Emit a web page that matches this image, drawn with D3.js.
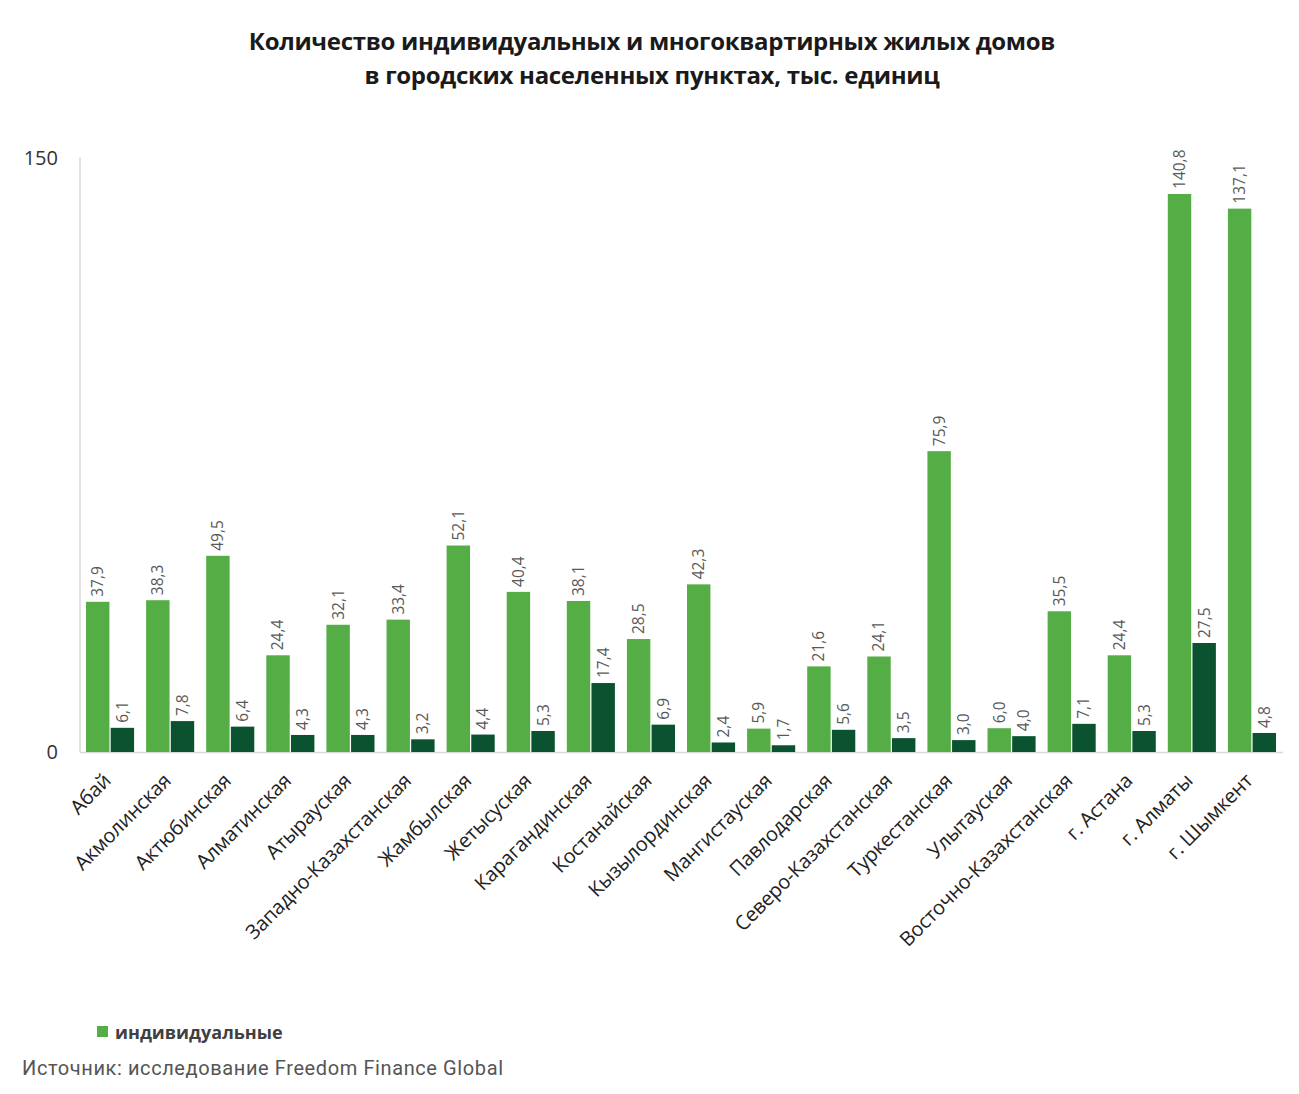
<!DOCTYPE html>
<html>
<head>
<meta charset="utf-8">
<script src="https://cdn.jsdelivr.net/npm/d3@7/dist/d3.min.js"></script>
<style>
  body { margin: 0; background: #fff; }
  svg { display: block; }
</style>
</head>
<body>
<svg id="chart" width="1299" height="1094"></svg>
<script>
var regions = ['Абай','Акмолинская','Актюбинская','Алматинская','Атырауская','Западно-Казахстанская',
  'Жамбылская','Жетысуская','Карагандинская','Костанайская','Кызылординская','Мангистауская',
  'Павлодарская','Северо-Казахстанская','Туркестанская','Улытауская','Восточно-Казахстанская',
  'г. Астана','г. Алматы','г. Шымкент'];
var individual = [37.9,38.3,49.5,24.4,32.1,33.4,52.1,40.4,38.1,28.5,42.3,5.9,21.6,24.1,75.9,6.0,35.5,24.4,140.8,137.1];
var apartment = [6.1,7.8,6.4,4.3,4.3,3.2,4.4,5.3,17.4,6.9,2.4,1.7,5.6,3.5,3.0,4.0,7.1,5.3,27.5,4.8];
var seriesNames = ['индивидуальные','многоквартирные'];
var yTicks = [0, 150];
var titleLines = ['Количество индивидуальных и многоквартирных жилых домов',
  'в городских населенных пунктах, тыс. единиц'];
var sourceText = 'Источник: исследование Freedom Finance Global';

var colors = ['#55ae45', '#0b5330'];
var svg = d3.select('#chart');
var fmt = function(v){ return v.toFixed(1).replace('.', ','); };

// title
svg.selectAll('.title').data(titleLines).enter().append('text')
  .attr('class','title')
  .attr('x', 652).attr('y', function(d,i){ return 50 + i*34; })
  .attr('text-anchor','middle')
  .attr('font-family','Open Sans, sans-serif')
  .attr('font-weight','bold')
  .attr('font-size', 24)
  .attr('letter-spacing', -0.3)
  .attr('fill','#1a1a1a')
  .text(function(d){ return d; });

var x = d3.scaleBand().domain(regions).range([80, 1282]).paddingInner(0.2).paddingOuter(0.1);
var xs = d3.scaleBand().domain([0,1]).range([0, x.bandwidth()]).paddingInner(0.05);
var y = d3.scaleLinear().domain([0,150]).range([752, 157.5]);

// axis lines
svg.append('line').attr('x1',80).attr('x2',80).attr('y1',157).attr('y2',752)
  .attr('stroke','#d9d9d9').attr('stroke-width',1.5);
svg.append('line').attr('x1',80).attr('x2',1283).attr('y1',y(0)+0.5).attr('y2',y(0)+0.5)
  .attr('stroke','#d9d9d9').attr('stroke-width',1.5);

svg.selectAll('.ytick').data(yTicks).enter().append('text')
  .attr('x', 58).attr('y', function(d){ return y(d); })
  .attr('dy','0.35em')
  .attr('text-anchor','end')
  .attr('font-family','Open Sans, sans-serif')
  .attr('font-size', 20)
  .attr('fill','#333')
  .text(function(d){ return d; });

var series = [individual, apartment];
series.forEach(function(vals, si){
  var g = svg.append('g');
  g.selectAll('rect').data(vals).enter().append('rect')
    .attr('x', function(d,i){ return x(regions[i]) + xs(si); })
    .attr('width', xs.bandwidth())
    .attr('y', function(d){ return y(d); })
    .attr('height', function(d){ return y(0) - y(d); })
    .attr('fill', colors[si]);
  g.selectAll('text').data(vals).enter().append('text')
    .attr('transform', function(d,i){
      var cx = x(regions[i]) + xs(si) + xs.bandwidth()/2;
      return 'translate(' + cx + ',' + (y(d) - 5) + ') rotate(-90)';
    })
    .attr('dy','0.35em')
    .attr('text-anchor','start')
    .attr('font-family','Open Sans, sans-serif')
    .attr('font-size', 15.5)
    .attr('fill','#595959')
    .text(fmt);
});

// category labels
svg.selectAll('.cat').data(regions).enter().append('text')
  .attr('transform', function(d){
    return 'translate(' + (x(d) + x.bandwidth()/2 + 2) + ',782) rotate(-45)';
  })
  .attr('text-anchor','end')
  .attr('font-family','Open Sans, sans-serif')
  .attr('font-size', 20)
  .attr('letter-spacing', -0.2)
  .attr('fill','#222')
  .text(function(d){ return d; });

// legend
svg.append('rect').attr('x',97).attr('y',1026).attr('width',11).attr('height',11).attr('fill',colors[0]);
svg.append('text').attr('x',115).attr('y',1039)
  .attr('font-family','Open Sans, sans-serif').attr('font-weight','bold')
  .attr('font-size',18).attr('fill','#404040').text(seriesNames[0]);

svg.append('text').attr('x',22).attr('y',1075)
  .attr('font-family','Roboto, sans-serif')
  .attr('font-size',20).attr('fill','#555')
  .attr('textLength', 481)
  .text(sourceText);
</script>
</body>
</html>
